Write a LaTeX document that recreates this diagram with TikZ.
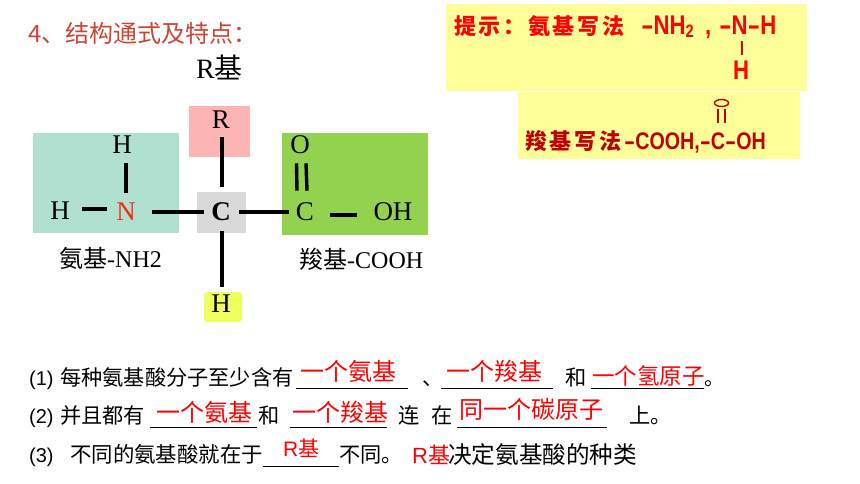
\documentclass[tikz,border=0pt]{standalone}
\usepackage{fontspec}
\setmainfont{Liberation Serif}
\newfontfamily\cjk{Noto Sans CJK SC}
\newfontfamily\cjksp[LetterSpace=12]{Noto Sans CJK SC}
\newfontfamily\lat{Liberation Sans}
\newfontfamily\hlat[FakeStretch=0.82]{Liberation Sans}
\definecolor{teal1}{HTML}{B0E0D0}
\definecolor{pink1}{HTML}{FDB4B4}
\definecolor{green1}{HTML}{92D24F}
\definecolor{gray1}{HTML}{D9D9D9}
\definecolor{yel1}{HTML}{F0FF60}
\definecolor{hint}{HTML}{FFFF99}
\definecolor{title}{HTML}{CC4433}
\definecolor{dred}{HTML}{C00000}
\definecolor{nred}{HTML}{F03010}
\tikzset{
  x=1pt,y=-1pt,
  atom/.style={font=\fontsize{27}{27}\selectfont,inner sep=0pt,text=black},
  bond/.style={line width=3.4pt,black},
  lbl/.style={anchor=base west,inner sep=0pt,font=\fontsize{24}{24}\selectfont},
  txt/.style={anchor=base west,inner sep=0pt,font=\fontsize{21.2}{21.2}\selectfont\cjk,text=black},
  ans/.style={anchor=base west,inner sep=0pt,font=\fontsize{24}{24}\selectfont\cjk,text=red},
  uline/.style={line width=0.7pt,black},
  hnt/.style={anchor=base west,inner sep=0pt,font=\fontsize{22}{22}\selectfont\bfseries},
  hlatin/.style={anchor=base west,inner sep=0pt,text=red,font=\fontsize{27}{27}\selectfont\bfseries\hlat},
}
\newcommand{\hz}[1]{{\cjk #1}}
\newcommand{\ld}{\scalebox{1.7}[1]{-}}
\begin{document}
\begin{tikzpicture}
\useasboundingbox (0,0) rectangle (860,484);
% panels
\fill[teal1] (33,133) rectangle (179,233);
\fill[pink1] (189,106) rectangle (250,157);
\fill[green1] (282,133) rectangle (428,235);
\fill[gray1] (197,192) rectangle (246,233);
\fill[yel1,rounded corners=3pt] (204,292) rectangle (242,322);
\fill[hint] (446,4) rectangle (807,91);
\fill[hint] (518,92) rectangle (800,159);
% title
\node[anchor=base west,inner sep=0pt,font=\fontsize{24}{24}\selectfont\cjk,text=title] (title) at (28,43) {4、结构通式及特点：};
\node[anchor=base west,inner sep=0pt,font=\fontsize{28}{28}\selectfont] (rlabel) at (196,79) {R\hz{基}};
% atoms
\node[atom] (h1) at (122,145) {H};
\node[atom] (h2) at (60,211) {H};
\node[atom,text=nred] (n) at (126,212) {N};
\node[atom,font=\fontsize{27}{27}\selectfont\bfseries] (c) at (221,212) {C};
\node[atom] (r) at (221,120) {R};
\node[atom] (h3) at (221,304) {H};
\node[atom] (c2) at (305,212) {C};
\node[atom] (o) at (300,145) {O};
\node[atom] (oh) at (393,212) {OH};
% bonds
\draw[bond] ([xshift=4pt,yshift=-9pt]h1.south) -- ([yshift=10pt]n.north);
\draw[bond] ([xshift=12pt,yshift=2pt]h2.east) -- ([xshift=-9pt,yshift=3pt]n.west);
\draw[bond] ([xshift=16pt]n.east) -- ([xshift=-7pt]c.west);
\draw[bond] ([xshift=1pt,yshift=-8pt]r.south) -- ([xshift=1pt,yshift=16pt]c.north);
\draw[bond] ([xshift=1pt,yshift=-10pt]c.south) -- ([xshift=1pt,yshift=8pt]h3.north);
\draw[bond] ([xshift=8pt]c.east) -- ([xshift=-7pt]c2.west);
\draw[bond] ([xshift=16pt,yshift=-3pt]c2.east) -- ([xshift=-16pt,yshift=-3pt]oh.west);
\draw[bond] ([xshift=-3.5pt,yshift=-9pt]o.south) -- ([xshift=-8pt,yshift=12pt]c2.north);
\draw[bond] ([xshift=6pt,yshift=-9pt]o.south) -- ([xshift=2pt,yshift=12pt]c2.north);
% labels
\node[lbl] (lamino) at (59,267) {\hz{氨基}-NH2};
\node[lbl] (lcarb) at (299,268) {\hz{羧基}-COOH};
% hints
\node[hnt,text=red,font=\fontsize{22}{22}\selectfont\bfseries\cjksp] (hint1) at (454,35) {提示：氨基写法};
\node[hlatin] (hint2) at (641,35) {\ld NH\raisebox{-3pt}{\fontsize{18}{18}\selectfont 2}};
\node[hlatin] (hint3) at (705,35) {,};
\node[hlatin] (hint4) at (719,35) {\ld N\ld H};
\node[hlatin] (hint5) at (733,80) {H};
\draw[red!85!black,line width=1.6pt] (742,41) -- (742,55);
\node[hnt,text=dred,font=\fontsize{22}{22}\selectfont\bfseries\cjksp] (hint6) at (525,150) {羧基写法};
\node[hlatin,text=dred,font=\fontsize{24}{24}\selectfont\bfseries\hlat] (hint7) at (624,150) {\ld COOH,\ld C\ld OH};
\draw[dred,line width=1.4pt] (721.5,103) ellipse (7pt and 3.5pt);
\draw[dred,line width=1.3pt] (718,109) -- (718,123) (725,109) -- (725,123);
% line 1
\node[txt,font=\fontsize{20}{20}\selectfont\lat] (a1) at (29,385) {(1)};
\node[txt] (a2) at (60,385) {每种氨基酸分子至少含有};
\node[ans] (a3) at (300,380) {一个氨基};
\node[txt] (a4) at (422,385) {、};
\node[ans] (a5) at (446,380) {一个羧基};
\node[txt] (a6) at (565,385) {和};
\node[ans,font=\fontsize{22.5}{22.5}\selectfont\cjk] (a7) at (592,384) {一个氢原子};
\node[txt,font=\fontsize{20}{20}\selectfont\cjk] (a8) at (704.5,385) {。};
\draw[uline] (296,388.5) -- (408,388.5);
\draw[uline] (441,388.5) -- (553,388.5);
\draw[uline] (591,388.5) -- (704,388.5);
% line 2
\node[txt,font=\fontsize{20}{20}\selectfont\lat] (b1) at (29,423) {(2)};
\node[txt] (b2) at (60,423) {并且都有};
\node[ans] (b3) at (156,421) {一个氨基};
\node[txt] (b4) at (258,423) {和};
\node[ans] (b5) at (292,421) {一个羧基};
\node[txt] (b6) at (398,423) {连};
\node[txt] (b7) at (431,423) {在};
\node[ans] (b8) at (459,418) {同一个碳原子};
\node[txt] (b9) at (629,423) {上。};
\draw[uline] (150,427) -- (257,427);
\draw[uline] (290,427) -- (387,427);
\draw[uline] (457,427) -- (607,427);
% line 3
\node[txt,font=\fontsize{20}{20}\selectfont\lat] (c1) at (29,462) {(3)};
\node[txt,font=\fontsize{21.4}{21.4}\selectfont\cjk] (c3) at (70,462) {不同的氨基酸就在于};
\node[ans,font=\fontsize{21}{21}\selectfont\cjk] (c4) at (283,456) {{\lat R}基};
\node[txt] (c5) at (339,462) {不同。};
\node[ans,font=\fontsize{22}{22}\selectfont\cjk] (c6) at (412,463) {{\lat R}基};
\node[txt,font=\fontsize{23.6}{23.6}\selectfont\cjk] (c7) at (448,463) {决定氨基酸的种类};
\draw[uline] (263,466) -- (339,466);
\end{tikzpicture}
\end{document}
